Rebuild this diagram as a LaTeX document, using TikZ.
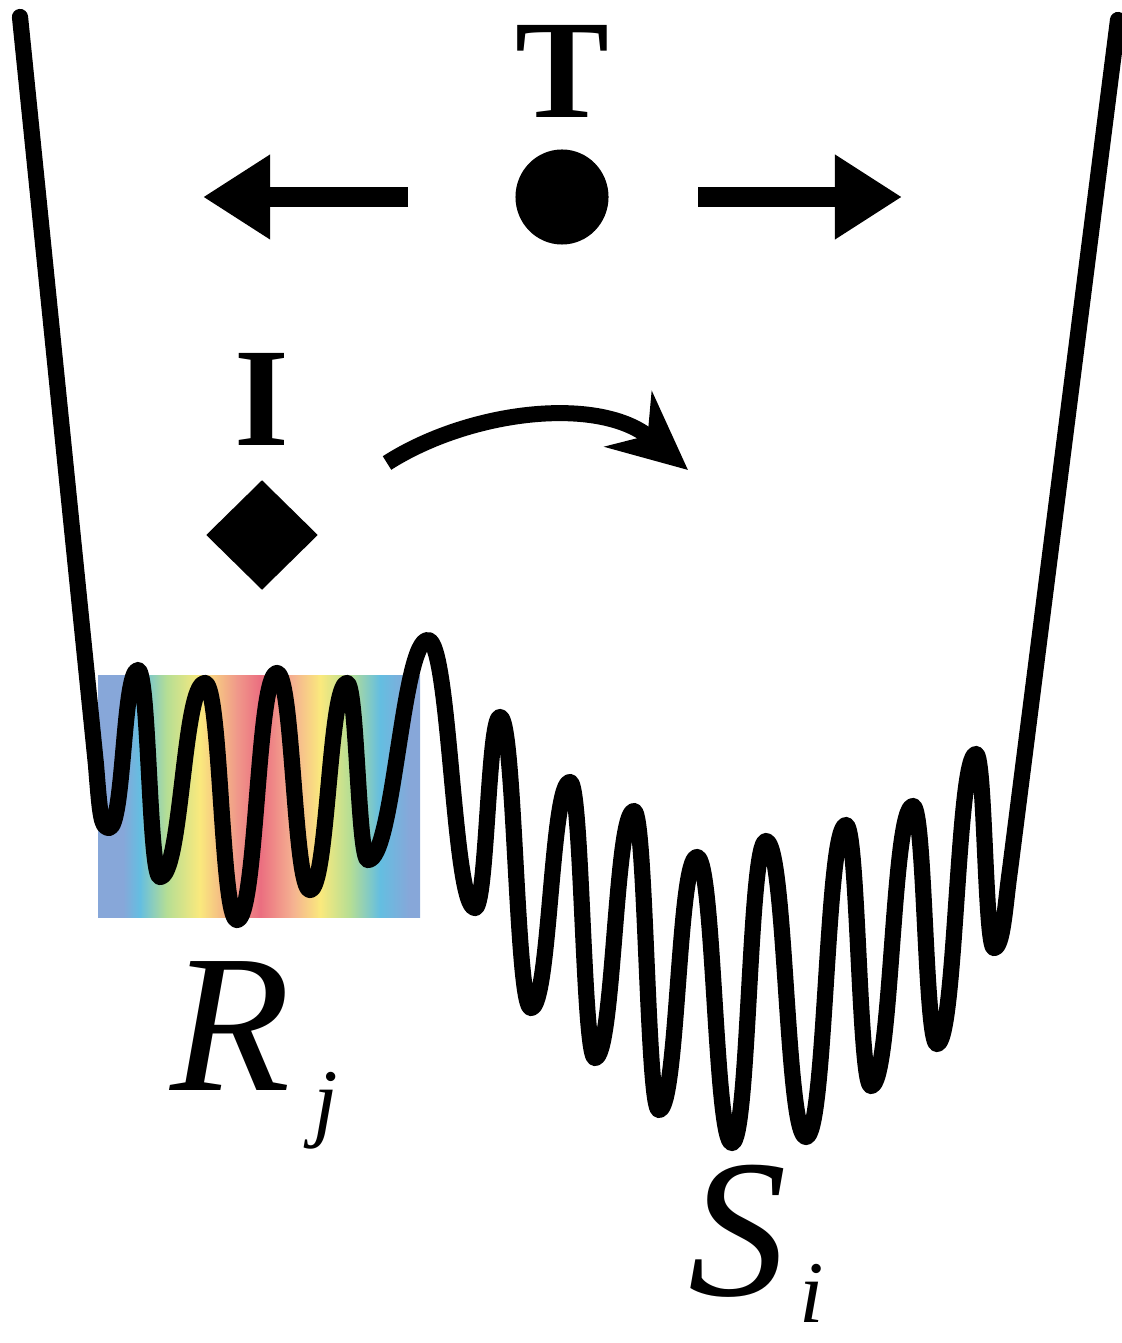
\documentclass[tikz,border=0pt]{standalone}
\usepackage{fontspec}
\setmainfont{Liberation Serif}
\usetikzlibrary{arrows.meta,shapes.geometric}
\definecolor{rbBlue}{RGB}{135,167,217}
\definecolor{rbCyan}{RGB}{100,190,225}
\definecolor{rbGreen}{RGB}{182,222,148}
\definecolor{rbYellow}{RGB}{250,233,125}
\definecolor{rbSalmon}{RGB}{240,152,138}
\definecolor{rbRed}{RGB}{235,110,128}
\definecolor{rbPeach}{RGB}{245,178,145}
\pgfdeclarehorizontalshading{rainbowshade}{100bp}{color(0bp)=(rbBlue); color(25bp)=(rbBlue); color(28.9bp)=(rbBlue); color(31.5bp)=(rbCyan); color(35.7bp)=(rbGreen); color(40.8bp)=(rbYellow); color(46.6bp)=(rbSalmon); color(50.2bp)=(rbRed); color(55.3bp)=(rbPeach); color(59.5bp)=(rbYellow); color(64.1bp)=(rbGreen); color(68.8bp)=(rbCyan); color(73.4bp)=(rbBlue); color(75bp)=(rbBlue); color(100bp)=(rbBlue)}
\newcommand{\subfnt}{\fontsize{25}{25}\selectfont\itshape}
\tikzset{
  wallline/.style={line width=4.6pt, line join=round, line cap=round, black},
  fatarrow/.style={line width=0.2cm, -{Triangle[length=0.67cm, width=0.8cm]}},
  bentarrow/.style={line width=0.16cm, -{Stealth[length=0.78cm, width=0.72cm, inset=0.25cm]}},
  boldlbl/.style={inner sep=0, anchor=base, font=\fontsize{40}{40}\selectfont\bfseries},
  itlbl/.style={inner sep=0, anchor=base west, font=\fontsize{56}{56}\selectfont\itshape}
}
\begin{document}
\begin{tikzpicture}[x=0.01cm, y=-0.01cm]
\useasboundingbox (0,0) rectangle (1122,1343);
% rainbow band
\shade[shading=rainbowshade] (98,675) rectangle (420,917);
% energy landscape
\draw[wallline] (20,17) -- (96,765) .. controls (100,815) and (101,828) .. (109,828)
  .. controls +(15,0) and +(-15,0) .. (138,670)
  .. controls +(11,0) and +(-11,0) .. (160,877)
  .. controls +(22,0) and +(-22,0) .. (205,683)
  .. controls +(16,0) and +(-16,0) .. (237,920)
  .. controls +(20,0) and +(-20,0) .. (277,673)
  .. controls +(16,0) and +(-16,0) .. (310,890)
  .. controls +(18,0) and +(-18,0) .. (347,683)
  .. controls +(10,0) and +(-10,0) .. (368,860)
  .. controls +(26,0) and +(-26,0) .. (428,640)
  .. controls +(22,0) and +(-22,0) .. (475,908)
  .. controls +(12,0) and +(-12,0) .. (500,717)
  .. controls +(15,0) and +(-15,0) .. (531,1008)
  .. controls +(19,0) and +(-19,0) .. (570,782)
  .. controls +(12,0) and +(-12,0) .. (595,1058)
  .. controls +(19,0) and +(-19,0) .. (634,811)
  .. controls +(12,0) and +(-12,0) .. (659,1110)
  .. controls +(19,0) and +(-19,0) .. (697,857)
  .. controls +(17,0) and +(-17,0) .. (732,1143)
  .. controls +(17,0) and +(-17,0) .. (766,841)
  .. controls +(20,0) and +(-20,0) .. (806,1137)
  .. controls +(20,0) and +(-20,0) .. (846,825)
  .. controls +(12,0) and +(-12,0) .. (871,1086)
  .. controls +(21,0) and +(-21,0) .. (913,806)
  .. controls +(12,0) and +(-12,0) .. (937,1044)
  .. controls +(19,0) and +(-19,0) .. (976,754)
  .. controls +(9,0) and +(-9,0) .. (994,948)
  .. controls (1003,948) and (1005,905) .. (1010,870) -- (1118,20);
% T with dot and arrows
\node[boldlbl] (T) at (562,118) {T};
\node[ellipse, fill=black, inner sep=0, minimum width=0.93cm, minimum height=0.95cm] (dot) at (562,197) {};
\coordinate (lA) at (408,197);
\coordinate (lB) at (203,197);
\coordinate (rA) at (698,197);
\coordinate (rB) at (902,197);
\draw[fatarrow] (lA) -- (lB);
\draw[fatarrow] (rA) -- (rB);
% I with diamond and bent arrow
\node[boldlbl] (I) at (262,445) {I};
\node[diamond, fill=black, inner sep=0, minimum width=1.12cm, minimum height=1.1cm] (dia) at (262,535) {};
\coordinate (cA) at (387,463);
\coordinate (cB) at (688,470);
\draw[bentarrow] (cA) .. controls (470,410) and (600,395) .. (cB);
% labels
\node[itlbl] (Rj) at (170,1090) {R\kern0.22cm\raisebox{-0.4cm}{\subfnt j}};
\node[itlbl] (Si) at (688,1295) {S\kern0.12cm\raisebox{-0.27cm}{\subfnt i}};
\end{tikzpicture}
\end{document}
